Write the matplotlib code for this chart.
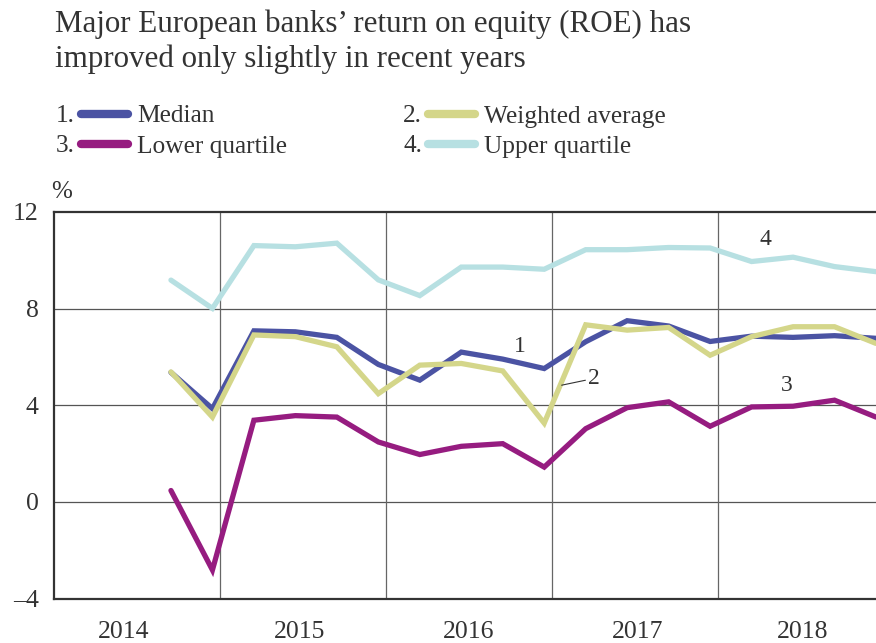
import matplotlib

matplotlib.use("Agg")
import matplotlib.pyplot as plt
from matplotlib.lines import Line2D
from matplotlib.ticker import FuncFormatter

plt.rcParams["font.family"] = ["Liberation Serif", "DejaVu Serif"]

TITLE_LINES = ["Major European banks\u2019 return on equity (ROE) has",
               "improved only slightly in recent years"]

# quarters 2014 Q3 .. 2018 Q4
YEARS = [2014, 2014] + [y for y in range(2015, 2019) for _ in range(4)]
QUARTERS = [3, 4] + [1, 2, 3, 4] * 4

MEDIAN = [5.36, 3.86, 7.08, 7.04, 6.81, 5.69, 5.04, 6.20, 5.91, 5.52,
          6.63, 7.50, 7.28, 6.64, 6.86, 6.81, 6.88, 6.77]
WEIGHTED = [5.38, 3.51, 6.91, 6.84, 6.42, 4.48, 5.66, 5.73, 5.42, 3.26,
            7.33, 7.11, 7.22, 6.07, 6.84, 7.25, 7.25, 6.56]
LOWER_Q = [0.47, -2.82, 3.38, 3.57, 3.51, 2.48, 1.96, 2.30, 2.41, 1.44,
           3.03, 3.90, 4.14, 3.13, 3.93, 3.96, 4.21, 3.51]
UPPER_Q = [9.18, 8.01, 10.61, 10.56, 10.71, 9.19, 8.54, 9.72, 9.72, 9.63,
           10.44, 10.44, 10.53, 10.51, 9.95, 10.13, 9.74, 9.53]

SERIES = [
    ("1.", "Median", MEDIAN, "#4b53a3"),
    ("2.", "Weighted average", WEIGHTED, "#d4d68a"),
    ("3.", "Lower quartile", LOWER_Q, "#961c80"),
    ("4.", "Upper quartile", UPPER_Q, "#b7e0e2"),
]

YEAR_LABELS = ["2014", "2015", "2016", "2017", "2018"]
Y_TICKS = [-4, 0, 4, 8, 12]

TEXT = "#333333"


def quarter_pos(year, quarter):
    return year + 0.25 * quarter - 0.045


def main():
    x = [quarter_pos(y, q) for y, q in zip(YEARS, QUARTERS)]

    fig = plt.figure(figsize=(8.76, 6.43), dpi=100)
    ax = fig.add_axes([54 / 876, 1 - 598.5 / 643, 822 / 876, 386.5 / 643])

    # draw in order 4, 3, 1, 2 like the original
    for num, label, values, color in [SERIES[3], SERIES[2], SERIES[0], SERIES[1]]:
        ax.plot(x, values, color=color, lw=3.8, solid_joinstyle="miter",
                solid_capstyle="round", zorder=3, clip_on=False)

    ax.set_xlim(2014.0, 2018.955)
    ax.set_ylim(-4, 12)

    ax.set_yticks(Y_TICKS)
    ax.yaxis.set_major_formatter(FuncFormatter(
        lambda v, p: f"{int(v)}".replace("-", "\u2013")))
    label_offsets = [0.42, 0.48, 0.5, 0.52, 0.51]
    ax.set_xticks([int(y) + off for y, off in zip(YEAR_LABELS, label_offsets)])
    ax.set_xticklabels(YEAR_LABELS)
    ax.tick_params(axis="both", length=0, labelsize=18.5, colors=TEXT)
    ax.tick_params(axis="y", pad=11)
    ax.tick_params(axis="x", pad=16)

    for yv in [0, 4, 8]:
        ax.axhline(yv, color="#555555", lw=0.9, zorder=1)
    for yr in range(2015, 2019):
        ax.axvline(yr, color="#666666", lw=0.9, zorder=1)

    for side in ["left", "top", "bottom"]:
        ax.spines[side].set_color("#333333")
        ax.spines[side].set_linewidth(1.6)
    ax.spines["right"].set_visible(False)

    ax.text(2016.81, 6.42, "1", fontsize=17, color=TEXT, ha="center", va="center")
    ax.annotate("2", xy=(2017.06, 4.83), xytext=(2017.22, 5.11),
                fontsize=17, color=TEXT, ha="left", va="center",
                arrowprops=dict(arrowstyle="-", color=TEXT, lw=0.8,
                                shrinkA=0, shrinkB=0))
    ax.text(2018.42, 4.80, "3", fontsize=17, color=TEXT, ha="center", va="center")
    ax.text(2018.29, 10.88, "4", fontsize=17, color=TEXT, ha="center", va="center")

    fig.text(62 / 876, 1 - 192 / 643, "%", fontsize=18, color=TEXT,
             ha="center", va="center")

    for line, base in zip(TITLE_LINES, [32, 67]):
        fig.text(55 / 876, 1 - base / 643, line, fontsize=22.3, color=TEXT,
                 ha="left", va="baseline")

    # legend
    cols = [56, 403]
    rows = [(113.5, 122.5), (144, 152.5)]
    for i, (num, label, values, color) in enumerate(SERIES):
        cx = cols[i % 2]
        line_y = 1 - rows[i // 2][0] / 643
        base_y = 1 - rows[i // 2][1] / 643
        fig.text(cx / 876, base_y, num, fontsize=18.3, color=TEXT,
                 ha="left", va="baseline")
        fig.add_artist(Line2D([(cx + 25) / 876, (cx + 72) / 876], [line_y, line_y],
                              color=color, lw=6, solid_capstyle="round"))
        fig.text((cx + 81) / 876, base_y, label, fontsize=18.3, color=TEXT,
                 ha="left", va="baseline")

    fig.savefig("out.png", dpi=100)
    plt.close(fig)


if __name__ == "__main__":
    main()
